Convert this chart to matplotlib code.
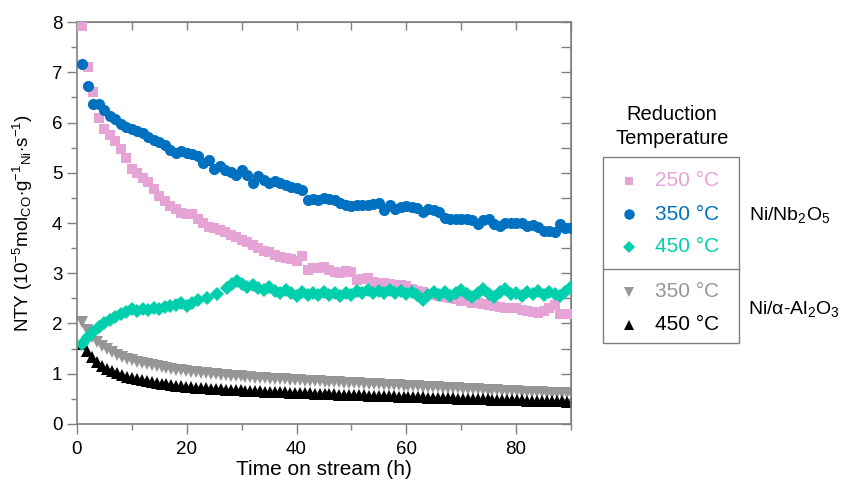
import matplotlib
matplotlib.use('Agg')
import matplotlib.pyplot as plt
from matplotlib.patches import Rectangle
from matplotlib.ticker import MultipleLocator, NullFormatter
import numpy as np

plt.rcParams['font.family'] = ['Liberation Sans', 'DejaVu Sans']
plt.rcParams['mathtext.fontset'] = 'custom'
plt.rcParams['mathtext.rm'] = 'Liberation Sans'
plt.rcParams['mathtext.it'] = 'Liberation Sans:italic'

# ---- Data ----
t_hourly = np.arange(1, 91)

nb_250 = [7.93, 7.10, 6.61, 6.09, 5.87, 5.76, 5.63, 5.47, 5.29, 5.07,
          5.00, 4.90, 4.82, 4.68, 4.53, 4.43, 4.34, 4.28, 4.20, 4.18,
          4.17, 4.07, 4.00, 3.93, 3.90, 3.87, 3.82, 3.77, 3.72, 3.67,
          3.63, 3.57, 3.50, 3.45, 3.43, 3.36, 3.33, 3.30, 3.28, 3.24,
          3.34, 3.07, 3.10, 3.10, 3.12, 3.07, 3.03, 3.00, 3.04, 3.02,
          2.87, 2.88, 2.90, 2.82, 2.80, 2.80, 2.79, 2.77, 2.76, 2.74,
          2.68, 2.64, 2.62, 2.58, 2.57, 2.55, 2.52, 2.50, 2.48, 2.45,
          2.44, 2.41, 2.40, 2.39, 2.37, 2.35, 2.32, 2.31, 2.31, 2.30,
          2.27, 2.24, 2.22, 2.21, 2.25, 2.30, 2.36, 2.18, 2.18, 2.18]

nb_350 = [7.16, 6.72, 6.37, 6.37, 6.25, 6.13, 6.07, 5.98, 5.92, 5.88,
          5.84, 5.79, 5.72, 5.66, 5.62, 5.56, 5.46, 5.39, 5.43, 5.40,
          5.38, 5.33, 5.19, 5.26, 5.07, 5.14, 5.06, 5.01, 4.96, 5.06,
          4.96, 4.80, 4.93, 4.86, 4.80, 4.83, 4.80, 4.76, 4.72, 4.70,
          4.66, 4.46, 4.48, 4.46, 4.50, 4.48, 4.46, 4.40, 4.36, 4.33,
          4.35, 4.36, 4.36, 4.37, 4.40, 4.26, 4.36, 4.28, 4.32, 4.34,
          4.32, 4.30, 4.21, 4.28, 4.25, 4.21, 4.10, 4.08, 4.08, 4.07,
          4.07, 4.06, 3.99, 4.05, 4.07, 3.98, 3.95, 4.01, 4.00, 4.00,
          4.00, 3.95, 3.97, 3.92, 3.85, 3.85, 3.83, 3.99, 3.90, 3.90]

t_nb_450 = list(range(1, 23)) + [23.6, 25.5, 27.3, 28.2, 29.1] + list(range(30, 91))
nb_450 = [1.60, 1.74, 1.84, 1.93, 2.00, 2.07, 2.13, 2.19, 2.23, 2.28,
          2.25, 2.29, 2.27, 2.31, 2.29, 2.32, 2.34, 2.36, 2.40, 2.35,
          2.41, 2.47,
          2.50, 2.59, 2.71, 2.78, 2.84,
          2.78, 2.72, 2.77, 2.70, 2.66, 2.72, 2.64, 2.61, 2.67, 2.60,
          2.55, 2.62, 2.56, 2.60, 2.56, 2.62, 2.57, 2.60, 2.54, 2.60,
          2.57, 2.64, 2.60, 2.67, 2.61, 2.65, 2.60, 2.66, 2.60, 2.65,
          2.58, 2.63, 2.56, 2.47, 2.56, 2.62, 2.57, 2.63, 2.55, 2.60,
          2.66, 2.58, 2.53, 2.60, 2.68, 2.58, 2.53, 2.62, 2.68, 2.58,
          2.60, 2.55, 2.62, 2.58, 2.64, 2.57, 2.63, 2.58, 2.55, 2.62,
          2.72]

t_al = np.arange(100) * 0.9 + 1.0
al_350 = [2.03, 1.88, 1.74, 1.64, 1.56, 1.49, 1.43, 1.38, 1.34, 1.30,
          1.27, 1.24, 1.21, 1.19, 1.17, 1.15, 1.13, 1.11, 1.10, 1.08,
          1.07, 1.05, 1.04, 1.03, 1.02, 1.01, 1.00, 0.99, 0.98, 0.97,
          0.96, 0.95, 0.95, 0.94, 0.93, 0.92, 0.92, 0.91, 0.90, 0.90,
          0.89, 0.89, 0.88, 0.87, 0.87, 0.86, 0.86, 0.85, 0.85, 0.84,
          0.84, 0.83, 0.83, 0.82, 0.82, 0.81, 0.81, 0.80, 0.80, 0.79,
          0.79, 0.78, 0.78, 0.77, 0.77, 0.76, 0.76, 0.75, 0.75, 0.74,
          0.74, 0.73, 0.73, 0.72, 0.72, 0.71, 0.71, 0.70, 0.70, 0.69,
          0.69, 0.68, 0.68, 0.67, 0.67, 0.66, 0.66, 0.65, 0.65, 0.64,
          0.64, 0.63, 0.63, 0.63, 0.62, 0.62, 0.61, 0.61, 0.61, 0.60]

al_450 = [1.60, 1.45, 1.33, 1.24, 1.16, 1.10, 1.05, 1.01, 0.97, 0.94,
          0.91, 0.89, 0.87, 0.85, 0.83, 0.81, 0.80, 0.79, 0.77, 0.76,
          0.75, 0.74, 0.73, 0.72, 0.72, 0.71, 0.70, 0.70, 0.69, 0.68,
          0.68, 0.67, 0.67, 0.66, 0.66, 0.65, 0.65, 0.64, 0.64, 0.63,
          0.63, 0.63, 0.62, 0.62, 0.61, 0.61, 0.61, 0.60, 0.60, 0.60,
          0.59, 0.59, 0.58, 0.58, 0.58, 0.57, 0.57, 0.57, 0.56, 0.56,
          0.56, 0.55, 0.55, 0.55, 0.54, 0.54, 0.54, 0.53, 0.53, 0.53,
          0.52, 0.52, 0.52, 0.51, 0.51, 0.51, 0.50, 0.50, 0.50, 0.49,
          0.49, 0.49, 0.49, 0.48, 0.48, 0.48, 0.47, 0.47, 0.47, 0.47,
          0.46, 0.46, 0.46, 0.46, 0.45, 0.45, 0.45, 0.45, 0.44, 0.44]

# colours / markers
c_pink = '#E6A3D5'
c_blue = '#0070C0'
c_teal = '#00CFAE'
c_grey = '#969696'
c_black = '#000000'
frame = '#808080'

fig = plt.figure(figsize=(8.45, 4.84), dpi=100)
ax = fig.add_axes([0.0911, 0.124, 0.5846, 0.8305])

ax.plot(t_al, al_350, 'v', color=c_grey, ms=8, mew=0, zorder=2)
ax.plot(t_al, al_450, '^', color=c_black, ms=8, mew=0, zorder=2.1)
ax.plot(t_hourly, nb_250, 's', color=c_pink, ms=7, mew=0, zorder=3)
ax.plot(t_hourly, nb_350, 'o', color=c_blue, ms=8, mew=0, zorder=3.1)
ax.plot(t_nb_450, nb_450, 'D', color=c_teal, ms=7, mew=0, zorder=3.2)

ax.set_xlim(0, 90)
ax.set_ylim(0, 8)
ax.xaxis.set_major_locator(MultipleLocator(20))
ax.xaxis.set_minor_locator(MultipleLocator(10))
ax.yaxis.set_major_locator(MultipleLocator(1))
ax.yaxis.set_minor_locator(MultipleLocator(0.5))
ax.tick_params(which='both', direction='out', color=frame, width=1, labelsize=13.5)
ax.tick_params(which='major', length=7)
ax.tick_params(which='minor', length=4)
ax.tick_params(axis='x', pad=5)
for s in ax.spines.values():
    s.set_color(frame)
    s.set_linewidth(1.2)

# inward ticks on top and right
top = ax.secondary_xaxis('top')
top.xaxis.set_major_locator(MultipleLocator(10))
top.xaxis.set_major_formatter(NullFormatter())
top.tick_params(direction='in', length=6, color=frame, width=1)
top.spines['top'].set_color(frame)
right = ax.secondary_yaxis('right')
right.yaxis.set_major_locator(MultipleLocator(0.5))
right.yaxis.set_major_formatter(NullFormatter())
right.tick_params(direction='in', length=7, color=frame, width=1)
right.spines['right'].set_color(frame)

ax.set_xlabel('Time on stream (h)', fontsize=15, labelpad=2)
ax.set_ylabel(r'NTY (10$^{\mathregular{-5}}$mol$_{\mathregular{CO}}$$\cdot$g$^{\mathregular{-1}}$$_{\mathregular{Ni}}$$\cdot$s$^{\mathregular{-1}}$)',
              fontsize=13.5, labelpad=12)

# ---- hand-built legend in figure pixel coordinates ----
lg = fig.add_axes([0, 0, 1, 1])
lg.set_xlim(0, 845)
lg.set_ylim(484, 0)
lg.axis('off')

lg.text(671.7, 114, 'Reduction', ha='center', va='center', fontsize=14.5)
lg.text(671.7, 139, 'Temperature', ha='center', va='center', fontsize=14.5)
lg.add_patch(Rectangle((602.7, 156.7), 136.6, 186.6, fill=False, edgecolor=frame, lw=1))
lg.plot([602.7, 739.3], [269.3, 269.3], color=frame, lw=1)

rows = [('s', c_pink, 180.7, 6), ('o', c_blue, 214, 7.5),
        ('D', c_teal, 246.7, 6.5), ('v', c_grey, 291.7, 7.5), ('^', c_black, 325, 7.5)]
labels = ['250 °C', '350 °C', '450 °C', '350 °C', '450 °C']
for (m, c, y, ms), lab in zip(rows, labels):
    lg.plot([629], [y], m, color=c, ms=ms, mew=0)
    lg.text(655, y, lab, color=c, ha='left', va='center', fontsize=15)

lg.text(749, 215, r'Ni/Nb$_{\mathregular{2}}$O$_{\mathregular{5}}$', ha='left', va='center', fontsize=14)
lg.text(748, 309, r'Ni/$\mathregular{\alpha}$-Al$_{\mathregular{2}}$O$_{\mathregular{3}}$', ha='left', va='center', fontsize=14)

fig.savefig('out.png', dpi=100)
